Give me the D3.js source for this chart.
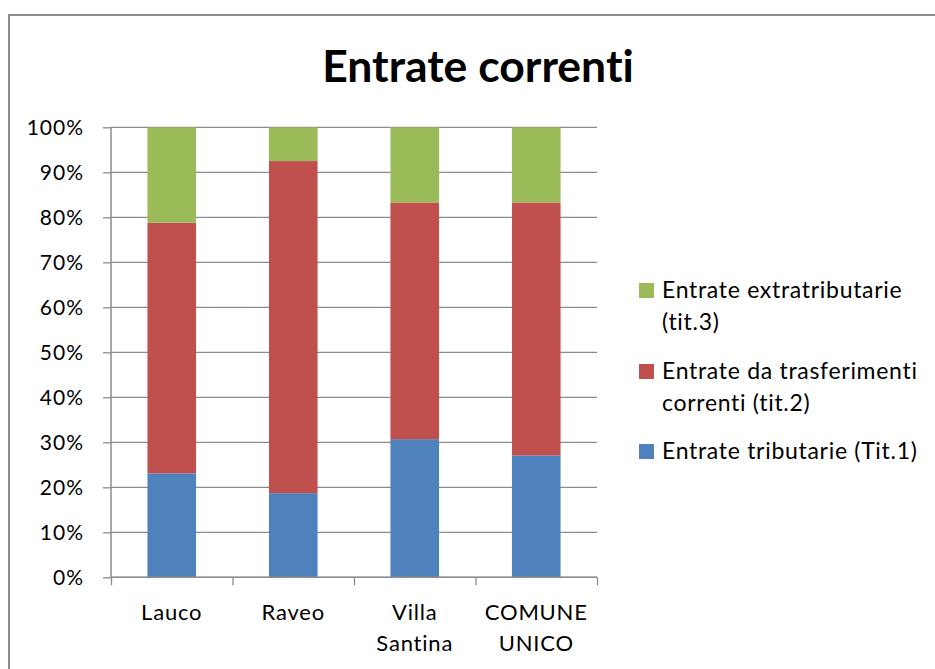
<!DOCTYPE html>
<html><head><meta charset="utf-8">
<script src="https://cdn.jsdelivr.net/npm/d3@7"></script>
<style>body{margin:0;background:#fff}svg{display:block}text{font-variant-ligatures:none}</style>
</head><body>
<script>
const categories = [["Lauco"], ["Raveo"], ["Villa", "Santina"], ["COMUNE", "UNICO"]];
const seriesNames = ["Entrate tributarie (Tit.1)", "Entrate da trasferimenti correnti (tit.2)", "Entrate extratributarie (tit.3)"];
const tit1 = [23.1, 18.7, 30.7, 27.1];
const tit2 = [55.7, 73.8, 52.6, 56.2];
const tit3 = [21.2, 7.5, 16.7, 16.7];
const colors = ["#4F81BD", "#C0504D", "#9BBB59"];
const yTicks = [0, 10, 20, 30, 40, 50, 60, 70, 80, 90, 100];
const legendLines = [["Entrate extratributarie", "(tit.3)"], ["Entrate da trasferimenti", "correnti (tit.2)"], ["Entrate tributarie (Tit.1)"]];
const legendColors = [colors[2], colors[1], colors[0]];

const W = 935, H = 669;
const font = "Lato, 'Noto Sans', sans-serif";
const svg = d3.select("body").append("svg").attr("width", W).attr("height", H);
svg.append("rect").attr("x", 9).attr("y", 15).attr("width", W + 10).attr("height", H + 10)
  .attr("fill", "#fff").attr("stroke", "#8c8c8c").attr("stroke-width", 2);

svg.append("text").attr("x", 478).attr("y", 82).attr("text-anchor", "middle")
  .attr("font-family", font).attr("font-weight", "bold").attr("font-size", 44.5).attr("fill", "#000")
  .text("Entrate correnti");

const m = {l: 111, r: 597, t: 127.3, b: 577.3};
const x = d3.scaleBand().domain(d3.range(categories.length)).range([m.l, m.r]).padding(0);
const y = d3.scaleLinear().domain([0, 100]).range([m.b, m.t]);

const g = svg.append("g");
g.selectAll("line.grid").data(yTicks).join("line").attr("class", "grid")
  .attr("x1", m.l).attr("x2", m.r).attr("y1", d => y(d)).attr("y2", d => y(d))
  .attr("stroke", "#8c8c8c").attr("stroke-width", 1.3);

const stackData = categories.map((c, i) => ({i, v: [tit1[i], tit2[i], tit3[i]]}));
const stack = d3.stack().keys([0, 1, 2]).value((d, k) => d.v[k]);
const layers = stack(stackData);
const bw = x.bandwidth() * 0.4;
g.selectAll("g.layer").data(layers).join("g").attr("fill", (d, k) => colors[k])
  .selectAll("rect").data(d => d).join("rect")
  .attr("x", d => x(d.data.i) + (x.bandwidth() - bw) / 2)
  .attr("width", bw)
  .attr("y", d => y(d[1])).attr("height", d => y(d[0]) - y(d[1]));

const yAxis = d3.axisLeft(y).tickValues(yTicks).tickFormat(d => d + "%").tickSize(8).tickPadding(19);
const ya = svg.append("g").attr("transform", `translate(${m.l},0)`).call(yAxis);
ya.select(".domain").attr("stroke", "#8c8c8c").attr("stroke-width", 1.5).attr("d", `M0,${m.t}V${m.b}`);
ya.selectAll(".tick line").attr("stroke", "#8c8c8c").attr("stroke-width", 1.3);
ya.selectAll(".tick text").attr("font-family", font).attr("font-size", 21).attr("letter-spacing", 1)
  .attr("fill", "#000").attr("dy", "0.35em");

const xTickScale = d3.scaleLinear().domain([0, categories.length]).range([m.l, m.r]);
const xa = svg.append("g").attr("transform", `translate(0,${m.b})`)
  .call(d3.axisBottom(xTickScale).tickValues(d3.range(categories.length + 1)).tickSize(8).tickFormat(""));
xa.select(".domain").attr("stroke", "#8c8c8c").attr("stroke-width", 1.5).attr("d", `M${m.l},0H${m.r}`);
xa.selectAll(".tick line").attr("stroke", "#8c8c8c").attr("stroke-width", 1.3);

const labels = svg.append("g");
categories.forEach((lines, i) => {
  const cx = x(i) + x.bandwidth() / 2;
  const t = labels.append("text").attr("x", cx).attr("y", 620)
    .attr("text-anchor", "middle").attr("font-family", font).attr("font-size", 22).attr("letter-spacing", 0.8).attr("fill", "#000");
  lines.forEach((ln, j) => t.append("tspan").attr("x", cx).attr("dy", j ? 31 : 0).text(ln));
});

const lg = svg.append("g");
const rowTops = [283, 364, 444];
legendLines.forEach((lines, k) => {
  lg.append("rect").attr("x", 639).attr("y", rowTops[k]).attr("width", 15).attr("height", 15).attr("fill", legendColors[k]);
  const t = lg.append("text").attr("x", 662).attr("y", rowTops[k] + 15).attr("font-family", font)
    .attr("font-size", 23).attr("letter-spacing", 0.7).attr("fill", "#000");
  lines.forEach((ln, j) => t.append("tspan").attr("x", 662).attr("dy", j ? 32 : 0).text(ln));
});
</script>
</body></html>
